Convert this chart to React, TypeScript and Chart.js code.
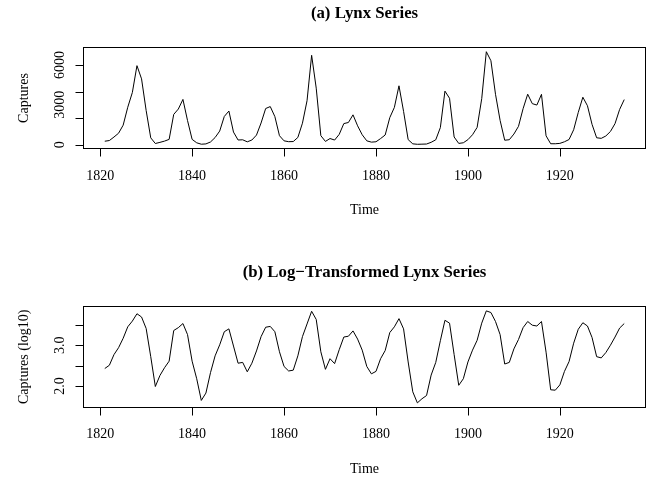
import React, { useEffect, useRef } from "react";
import { Chart, registerables } from "chart.js";

Chart.register(...registerables);

// ---- data ----
const years = [
  1821, 1822, 1823, 1824, 1825, 1826, 1827, 1828, 1829, 1830,
  1831, 1832, 1833, 1834, 1835, 1836, 1837, 1838, 1839, 1840,
  1841, 1842, 1843, 1844, 1845, 1846, 1847, 1848, 1849, 1850,
  1851, 1852, 1853, 1854, 1855, 1856, 1857, 1858, 1859, 1860,
  1861, 1862, 1863, 1864, 1865, 1866, 1867, 1868, 1869, 1870,
  1871, 1872, 1873, 1874, 1875, 1876, 1877, 1878, 1879, 1880,
  1881, 1882, 1883, 1884, 1885, 1886, 1887, 1888, 1889, 1890,
  1891, 1892, 1893, 1894, 1895, 1896, 1897, 1898, 1899, 1900,
  1901, 1902, 1903, 1904, 1905, 1906, 1907, 1908, 1909, 1910,
  1911, 1912, 1913, 1914, 1915, 1916, 1917, 1918, 1919, 1920,
  1921, 1922, 1923, 1924, 1925, 1926, 1927, 1928, 1929, 1930,
  1931, 1932, 1933, 1934,
];

const lynxCaptures = [
  269, 321, 585, 871, 1475, 2821, 3928, 5943, 4950, 2577,
  523, 98, 184, 279, 409, 2285, 2685, 3409, 1824, 409,
  151, 45, 68, 213, 546, 1033, 2129, 2536, 957, 361,
  377, 225, 360, 731, 1638, 2725, 2871, 2119, 684, 299,
  236, 245, 552, 1623, 3311, 6721, 4254, 687, 255, 473,
  358, 784, 1594, 1676, 2251, 1426, 756, 299, 201, 229,
  469, 736, 2042, 2811, 4431, 2511, 389, 73, 39, 49,
  59, 188, 377, 1292, 4031, 3495, 587, 105, 153, 387,
  758, 1307, 3465, 6991, 6313, 3794, 1836, 345, 382, 808,
  1388, 2713, 3800, 3091, 2985, 3790, 674, 81, 80, 108,
  229, 399, 1132, 2432, 3574, 2935, 1537, 529, 485, 662,
  1000, 1590, 2657, 3396,
];

const lynxLog10 = [
  2.43, 2.51, 2.77, 2.94, 3.17, 3.45, 3.59, 3.77, 3.69, 3.41,
  2.72, 1.99, 2.26, 2.45, 2.61, 3.36, 3.43, 3.53, 3.26, 2.61,
  2.18, 1.65, 1.83, 2.33, 2.74, 3.01, 3.33, 3.40, 2.98, 2.56,
  2.58, 2.35, 2.56, 2.86, 3.21, 3.44, 3.46, 3.33, 2.84, 2.48,
  2.37, 2.39, 2.74, 3.21, 3.52, 3.83, 3.63, 2.84, 2.41, 2.67,
  2.55, 2.89, 3.20, 3.22, 3.35, 3.15, 2.88, 2.48, 2.30, 2.36,
  2.67, 2.87, 3.31, 3.45, 3.65, 3.40, 2.59, 1.86, 1.59, 1.69,
  1.77, 2.27, 2.58, 3.11, 3.61, 3.54, 2.77, 2.02, 2.18, 2.59,
  2.88, 3.12, 3.54, 3.84, 3.80, 3.58, 3.26, 2.54, 2.58, 2.91,
  3.14, 3.43, 3.58, 3.49, 3.47, 3.58, 2.83, 1.91, 1.90, 2.03,
  2.36, 2.60, 3.05, 3.39, 3.55, 3.47, 3.19, 2.72, 2.69, 2.82,
  3.00, 3.20, 3.42, 3.53,
];

const xTicks = [1820, 1840, 1860, 1880, 1900, 1920];
const lynxTicks = [0, 1000, 2000, 3000, 4000, 5000, 6000, 7000];
const lynxTickLabels = ["0", "3000", "6000"];
const logTicks = [2.0, 2.5, 3.0, 3.5];
const logTickLabels = ["2.0", "3.0"];

const titleA = "(a) Lynx Series";
const titleB = "(b) Log\u2212Transformed Lynx Series";
const xTitle = "Time";
const yTitleA = "Captures";
const yTitleB = "Captures (log10)";

const W = 648;
const H = 477;
const SERIF = '"Liberation Serif", "Times New Roman", serif';

type PanelCfg = {
  values: number[];
  yMin: number;
  yMax: number;
  yTicks: number[];
  yLabels: string[];
  padding: { left: number; right: number; top: number; bottom: number };
  title: string;
  yTitle: string;
};

function makeRPlugin(cfg: PanelCfg) {
  return {
    id: "rAxes",
    afterDraw(chart: any) {
      const ctx = chart.ctx as CanvasRenderingContext2D;
      const { left, right, top, bottom } = chart.chartArea;
      const xs = chart.scales.x;
      const ys = chart.scales.y;
      const L = Math.round(left) - 0.5;
      const R = Math.round(right) + 0.5;
      const T = Math.round(top) - 0.5;
      const B = Math.round(bottom) + 0.5;
      const tl = 8;
      ctx.save();
      ctx.strokeStyle = "#000";
      ctx.fillStyle = "#000";
      ctx.lineWidth = 1;
      // box
      ctx.strokeRect(L, T, R - L, B - T);

      // x axis
      const xt = xs.ticks.map((t: any) => t.value);
      const x0 = xs.getPixelForValue(xt[0]);
      const x1 = xs.getPixelForValue(xt[xt.length - 1]);
      ctx.beginPath();
      ctx.moveTo(Math.round(x0) + 0.5, B);
      ctx.lineTo(Math.round(x1) + 0.5, B);
      xt.forEach((v: number) => {
        const px = Math.round(xs.getPixelForValue(v)) + 0.5;
        ctx.moveTo(px, B);
        ctx.lineTo(px, B + tl);
      });
      ctx.stroke();
      ctx.font = `14px ${SERIF}`;
      ctx.textAlign = "center";
      ctx.textBaseline = "alphabetic";
      xt.forEach((v: number) => {
        ctx.fillText(String(v), xs.getPixelForValue(v), bottom + 31.5);
      });
      ctx.fillText(xTitle, (left + right) / 2, bottom + 66);

      // y axis
      const yt = ys.ticks.map((t: any) => t.value);
      const y0 = ys.getPixelForValue(yt[0]);
      const y1 = ys.getPixelForValue(yt[yt.length - 1]);
      ctx.beginPath();
      ctx.moveTo(L, Math.round(y0) + 0.5);
      ctx.lineTo(L, Math.round(y1) + 0.5);
      yt.forEach((v: number) => {
        const py = Math.round(ys.getPixelForValue(v)) + 0.5;
        ctx.moveTo(L, py);
        ctx.lineTo(L - tl, py);
      });
      ctx.stroke();
      cfg.yLabels.forEach((s) => {
        const py = ys.getPixelForValue(parseFloat(s));
        ctx.save();
        ctx.translate(left - 20.5, py);
        ctx.rotate(-Math.PI / 2);
        ctx.textAlign = "center";
        ctx.textBaseline = "alphabetic";
        ctx.fillText(s, 0, 0);
        ctx.restore();
      });
      ctx.save();
      ctx.translate(28, (top + bottom) / 2);
      ctx.rotate(-Math.PI / 2);
      ctx.textAlign = "center";
      ctx.textBaseline = "alphabetic";
      ctx.fillText(cfg.yTitle, 0, 0);
      ctx.restore();

      // main title
      ctx.font = `bold 16.8px ${SERIF}`;
      ctx.textAlign = "center";
      ctx.fillText(cfg.title, (left + right) / 2, top - 30);
      ctx.restore();
    },
  };
}

function makeChart(canvas: HTMLCanvasElement, cfg: PanelCfg) {
  return new Chart(canvas, {
    type: "line",
    data: {
      datasets: [
        {
          data: years.map((yr, i) => ({ x: yr, y: cfg.values[i] })),
          borderColor: "#000",
          borderWidth: 1,
          pointRadius: 0,
          tension: 0,
          fill: false,
          borderJoinStyle: "round",
        },
      ],
    },
    options: {
      animation: false,
      responsive: false,
      devicePixelRatio: 1,
      events: [],
      layout: { padding: cfg.padding },
      plugins: { legend: { display: false }, tooltip: { enabled: false } },
      scales: {
        x: {
          type: "linear",
          display: false,
          min: 1816.48,
          max: 1938.52,
          afterBuildTicks: (s: any) => {
            s.ticks = xTicks.map((v) => ({ value: v }));
          },
        },
        y: {
          type: "linear",
          display: false,
          min: cfg.yMin,
          max: cfg.yMax,
          afterBuildTicks: (s: any) => {
            s.ticks = cfg.yTicks.map((v) => ({ value: v }));
          },
        },
      },
    } as any,
    plugins: [makeRPlugin(cfg)],
  });
}

export default function App() {
  const ref1 = useRef<HTMLCanvasElement>(null);
  const ref2 = useRef<HTMLCanvasElement>(null);

  useEffect(() => {
    const c1 = makeChart(ref1.current!, {
      values: lynxCaptures,
      yMin: -239.08,
      yMax: 7269.08,
      yTicks: lynxTicks,
      yLabels: lynxTickLabels,
      padding: { left: 84, right: 3, top: 48, bottom: H - 148 },
      title: titleA,
      yTitle: yTitleA,
    });
    const c2 = makeChart(ref2.current!, {
      values: lynxLog10,
      yMin: 1.501,
      yMax: 3.935,
      yTicks: logTicks,
      yLabels: logTickLabels,
      padding: { left: 84, right: 3, top: 307, bottom: H - 406.5 },
      title: titleB,
      yTitle: yTitleB,
    });
    return () => {
      c1.destroy();
      c2.destroy();
    };
  }, []);

  const st: React.CSSProperties = {
    position: "absolute",
    left: 0,
    top: 0,
    width: W,
    height: H,
    display: "block",
  };
  return (
    <div style={{ position: "absolute", left: 0, top: 0, width: W, height: H, background: "#fff" }}>
      <canvas ref={ref1} width={W} height={H} style={st} />
      <canvas ref={ref2} width={W} height={H} style={st} />
    </div>
  );
}
